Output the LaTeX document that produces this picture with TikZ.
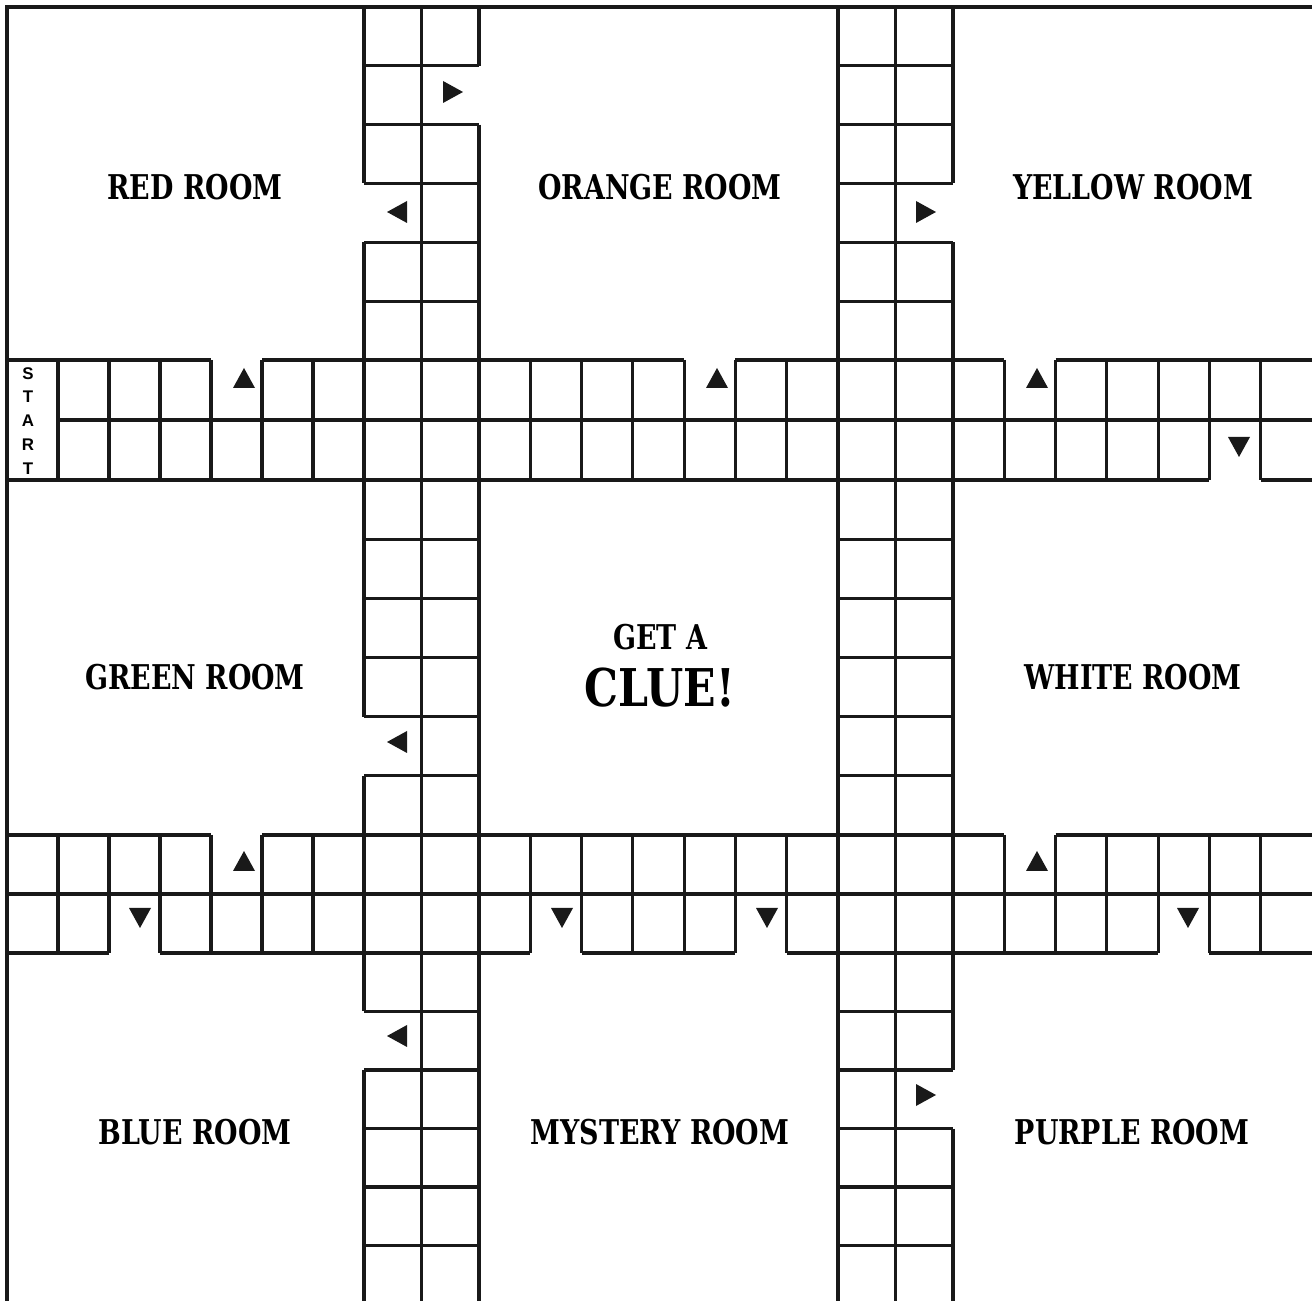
\documentclass[tikz,border=0pt]{standalone}
\usepackage{fontspec}
\usepackage{tikz}
\newfontfamily\roomfont{DejaVu Serif}[FakeStretch=0.79]
\newfontfamily\cluefont{DejaVu Serif}[FakeStretch=0.82]
\newfontfamily\startfont{Liberation Sans}
\definecolor{boardink}{RGB}{25,25,25}

\begin{document}
\begin{tikzpicture}[
  x=0.01cm, y=-0.01cm,
  wall/.style={draw=boardink, line width=0.9pt},
  rim/.style={draw=boardink, line width=1.2pt, line join=miter},
  room/.style={font=\roomfont\bfseries\fontsize{9.7}{11}\selectfont, inner sep=0pt},
  clue/.style={font=\cluefont\bfseries\fontsize{14.8}{16}\selectfont, inner sep=0pt},
  startlbl/.style={font=\startfont\bfseries\fontsize{4.8}{6.8}\selectfont, align=center, inner sep=0pt},
  cueup/.pic={\fill[boardink] (-11,10) -- (11,10) -- (0,-10) -- cycle;},
  cuedown/.pic={\fill[boardink] (-11,-10) -- (11,-10) -- (0,10) -- cycle;},
  cueleft/.pic={\fill[boardink] (10,-11) -- (10,11) -- (-10,0) -- cycle;},
  cueright/.pic={\fill[boardink] (-10,-11) -- (-10,11) -- (10,0) -- cycle;}
]
\useasboundingbox (0,0) rectangle (1312,1301);
\clip (0,0) rectangle (1312,1301);

% outer frame
\draw[rim] (7,1304) -- (7,7) -- (1312,7);

% corridor rungs
\foreach \y in {65.8,124.7,183.5,242.3,301.2,539.2,598.3,657.5,716.7,775.8,1011.5,1070,1128.5,1187,1245.5}
  \draw[wall] (364,\y) -- (479,\y) (838,\y) -- (953,\y);
\foreach \x in {58,109,160,211,262,313,530.3,581.6,632.9,684.1,735.4,786.7,1004.3,1055.6,1106.9,1158.1,1209.4,1260.7}
  \draw[wall] (\x,360) -- (\x,480) (\x,835) -- (\x,953);

% long walls, broken at the doors
\foreach \x/\a/\b in {364/7/183.5, 364/242.3/716.7, 364/775.8/1011.5, 364/1070/1304,
                      421.5/7/1304, 479/7/65.8, 479/124.7/1304,
                      838/7/1304, 895.5/7/1304,
                      953/7/183.5, 953/242.3/1070, 953/1128.5/1304}
  \draw[wall] (\x,\a) -- (\x,\b);
\foreach \y/\a/\b in {360/7/211, 360/262/684.1, 360/735.4/1004.3, 360/1055.6/1312,
                      420/58/1312, 480/7/1209.4, 480/1260.7/1312,
                      835/7/211, 835/262/1004.3, 835/1055.6/1312,
                      894/7/1312,
                      953/7/109, 953/160/530.3, 953/581.6/735.4, 953/786.7/1158.1, 953/1209.4/1312}
  \draw[wall] (\a,\y) -- (\b,\y);

% door markers
\pic at (453,92) {cueright};
\pic at (397,212) {cueleft};
\pic at (926,212) {cueright};
\pic at (397,742) {cueleft};
\pic at (397,1036) {cueleft};
\pic at (926,1095) {cueright};
\pic at (244,378) {cueup};
\pic at (717,378) {cueup};
\pic at (1037,378) {cueup};
\pic at (1239,447) {cuedown};
\pic at (244,861) {cueup};
\pic at (1037,861) {cueup};
\pic at (140,918) {cuedown};
\pic at (562,918) {cuedown};
\pic at (767,918) {cuedown};
\pic at (1188,918) {cuedown};

\node[startlbl] (start) at (28,421) {S\\T\\A\\R\\T};

\node[room] (redroom) at (195,187) {RED ROOM};
\node[room] (orangeroom) at (660,187) {ORANGE ROOM};
\node[room] (yellowroom) at (1133,187) {YELLOW ROOM};
\node[room] (greenroom) at (195,677) {GREEN ROOM};
\node[room] (getaline) at (660,637) {GET A};
\node[clue] (clueline) at (660,688) {CLUE!};
\node[room] (whiteroom) at (1133,677) {WHITE ROOM};
\node[room] (blueroom) at (195,1132) {BLUE ROOM};
\node[room] (mysteryroom) at (660,1132) {MYSTERY ROOM};
\node[room] (purpleroom) at (1132,1132) {PURPLE ROOM};
\end{tikzpicture}
\end{document}
